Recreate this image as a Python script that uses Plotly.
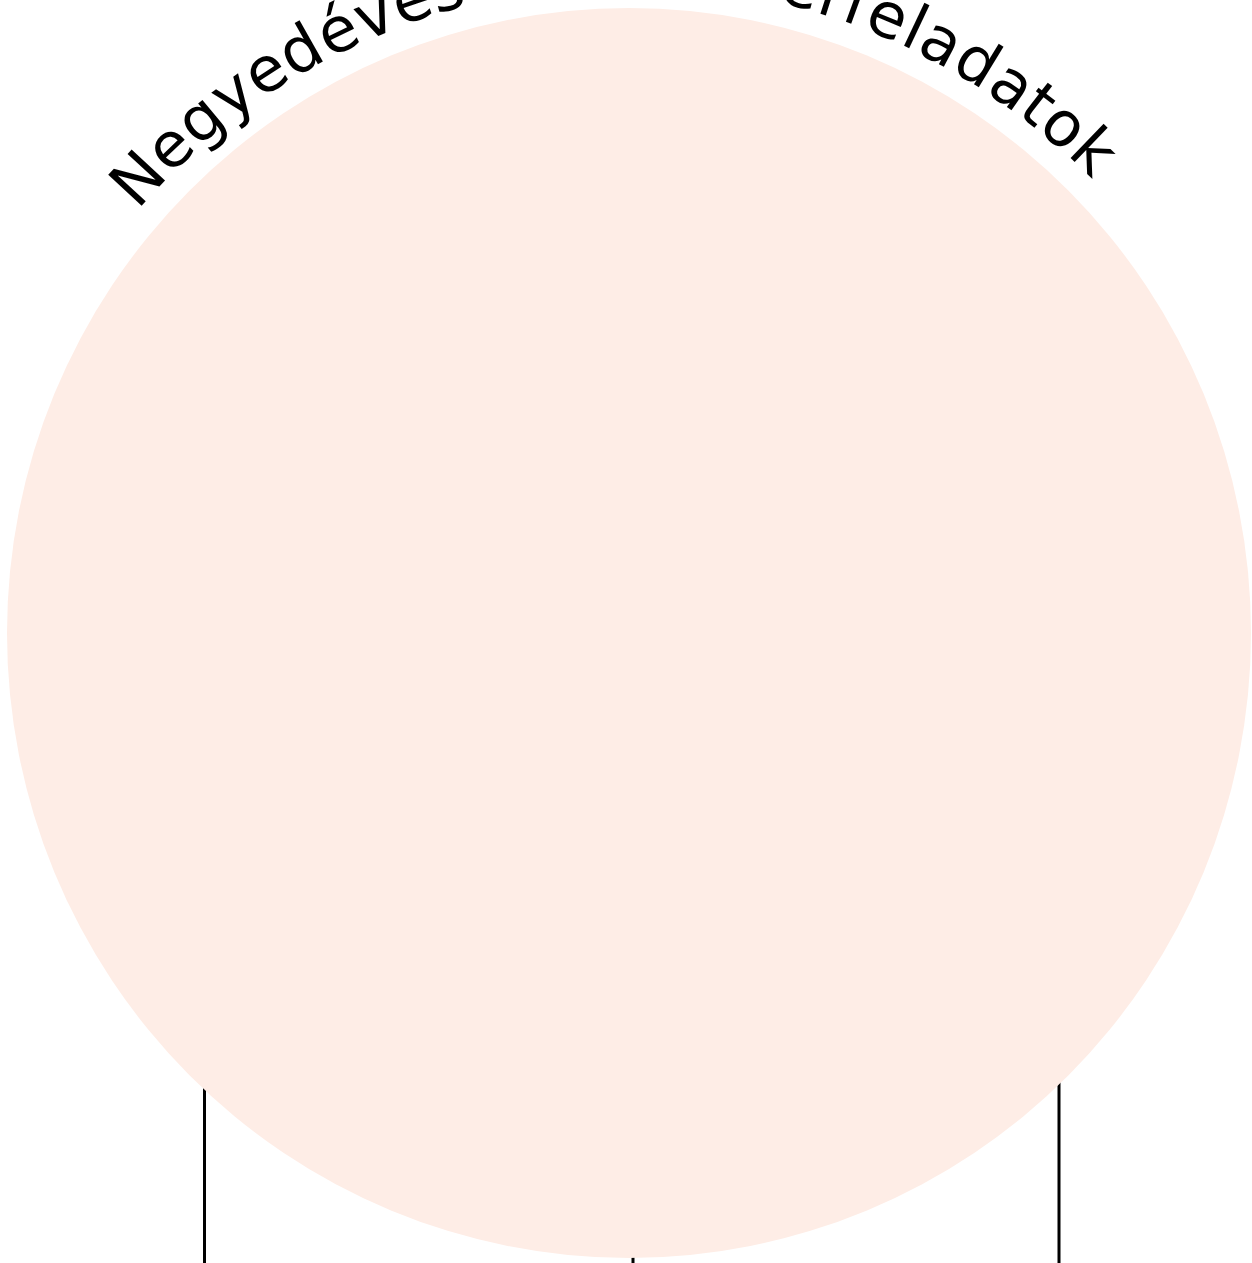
import math
import plotly.graph_objects as go

# ---- data ----
title_text = "Negyedéves menedzserfeladatok"
circle_center = [629, 633]
circle_radius = [622, 625]          # x, y radius
branch_x = [204.5, 633, 1059]       # child link positions
branch_top = [900, 1200, 900]
branch_bottom = [1300, 1300, 1300]

# approximate advance widths (em) for DejaVu Sans
W = {"N": 0.748, "e": 0.615, "g": 0.635, "y": 0.592, "d": 0.635, "é": 0.615, "v": 0.592,
     "s": 0.521, " ": 0.318, "m": 0.974, "n": 0.634, "z": 0.525, "r": 0.411, "f": 0.352,
     "l": 0.278, "a": 0.613, "t": 0.392, "o": 0.612, "k": 0.579}

WIDTH, HEIGHT = 1252, 1263
font_size = 62.5
letter_spacing = 1.0
baseline_r = 648
start_deg = -49.3

fig = go.Figure()

for bx, bt, bb in zip(branch_x, branch_top, branch_bottom):
    fig.add_trace(go.Scatter(x=[bx, bx], y=[bt, bb], mode="lines",
                             line=dict(color="black", width=3),
                             hoverinfo="skip", showlegend=False))

fig.add_shape(type="circle", xref="x", yref="y",
              x0=circle_center[0] - circle_radius[0], x1=circle_center[0] + circle_radius[0],
              y0=circle_center[1] - circle_radius[1], y1=circle_center[1] + circle_radius[1],
              fillcolor="#FEEDE6", line=dict(width=0), layer="above")

# curved title: one annotation per character (paper coords so off-edge glyphs still render)
cx, cy = circle_center
pos = 0.0
r_center = baseline_r + 0.346 * font_size
for ch in title_text:
    w = W.get(ch, 0.6) * font_size
    mid = pos + w / 2
    theta = start_deg + math.degrees(mid / baseline_r)
    t = math.radians(theta)
    x = cx + r_center * math.sin(t)
    y = cy - r_center * math.cos(t)
    if ch != " ":
        fig.add_annotation(x=x / WIDTH, y=1 - y / HEIGHT, xref="paper", yref="paper",
                           text=ch, showarrow=False,
                           textangle=theta, xanchor="center", yanchor="middle",
                           font=dict(family="DejaVu Sans", size=font_size, color="black"))
    pos += w + letter_spacing

fig.update_layout(
    width=WIDTH, height=HEIGHT,
    margin=dict(l=0, r=0, t=0, b=0),
    paper_bgcolor="white", plot_bgcolor="white",
    xaxis=dict(range=[0, WIDTH], visible=False, fixedrange=True),
    yaxis=dict(range=[HEIGHT, 0], visible=False, fixedrange=True),
    showlegend=False,
)

fig.write_html("out.html", config={"displayModeBar": False},
               post_script="document.body.style.margin='0';document.body.style.overflow='hidden';")
